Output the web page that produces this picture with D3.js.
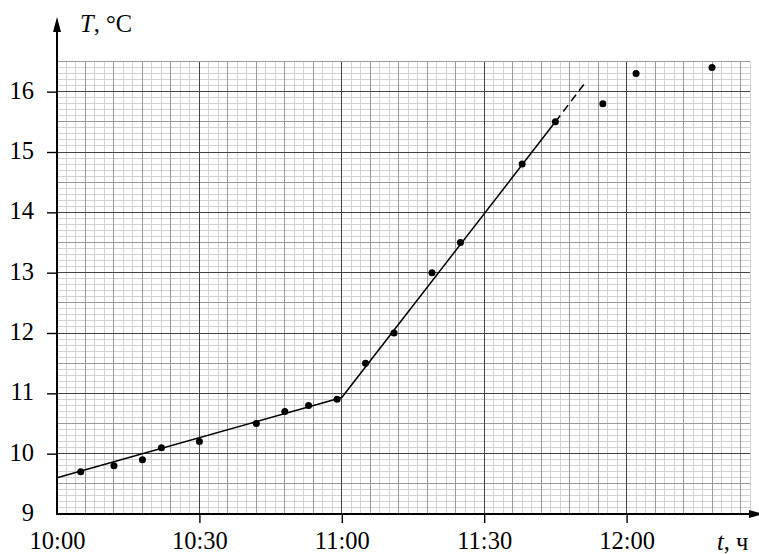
<!DOCTYPE html>
<html>
<head>
<meta charset="utf-8">
<script src="https://cdn.jsdelivr.net/npm/d3@7"></script>
<style>
  body { margin: 0; background: #fff; }
</style>
</head>
<body>
<div id="vis"></div>
<script>
// measured points (time of day, temperature)
const times = ["10:05", "10:12", "10:18", "10:22", "10:30", "10:42", "10:48", "10:53", "10:59",
               "11:05", "11:11", "11:19", "11:25", "11:38", "11:45", "11:55", "12:02", "12:18"];
const temps = [9.7, 9.8, 9.9, 10.1, 10.2, 10.5, 10.7, 10.8, 10.9,
               11.5, 12.0, 13.0, 13.5, 14.8, 15.5, 15.8, 16.3, 16.4];

// fitted lines: solid part and dashed extrapolation
const fitTimes = ["10:00", "11:00", "11:45"];
const fitTemps = [9.6, 10.93, 15.5];
const dashTimes = ["11:45", "11:51"];
const dashTemps = [15.5, 16.12];

const xTickLabels = ["10:00", "10:30", "11:00", "11:30", "12:00"];
const yTickValues = [9, 10, 11, 12, 13, 14, 15, 16];

const FONT = "'Liberation Serif', 'Times New Roman', Times, serif";
const FONT_SIZE = 24.5;
const FRAME_WIDTH = 759;
const FRAME_HEIGHT = 554;
const MARGINS = {left: 57, right: 8, top: 61.5, bottom: 40};

// minutes after 10:00
const toMin = (s) => { const p = s.split(":"); return (+p[0] - 10) * 60 + (+p[1]); };
const fmt = (m) => { const h = 10 + Math.floor(m / 60); const mm = m % 60; return h + ":" + (mm < 10 ? "0" : "") + mm; };

const X_MAX = 146; // right edge of the graph paper, ~12:26
const X_SCALE = d3.scaleLinear().domain([0, X_MAX])
                  .range([MARGINS.left, FRAME_WIDTH - MARGINS.right - 1]);
const Y_SCALE = d3.scaleLinear().domain([9, 16.5])
                  .range([FRAME_HEIGHT - MARGINS.bottom, MARGINS.top]);

const FRAME = d3.select("#vis").append("svg")
                .attr("width", FRAME_WIDTH)
                .attr("height", FRAME_HEIGHT);

const x0 = X_SCALE(0), x1 = X_SCALE(X_MAX);
const y0 = Y_SCALE(9), y1 = Y_SCALE(16.5);

// graph paper
const grid = FRAME.append("g").attr("shape-rendering", "crispEdges");

const vMinor = d3.range(0, X_MAX + 0.1, 2);
const hMinor = d3.range(0, 76).map((i) => 9 + i / 10);

function vColor(m) {
  if (m % 30 === 0) return "#444";
  if (m % 6 === 0) return "#9a9a9a";
  return "#d2d2d2";
}
function hColor(v) {
  const k = Math.round(v * 10);
  if (k % 10 === 0) return "#444";
  if (k % 5 === 0) return "#9a9a9a";
  return "#d2d2d2";
}

// light lines first, dark ones on top
const levels = ["#d2d2d2", "#9a9a9a", "#444"];
levels.forEach((c) => {
  grid.selectAll(null)
      .data(vMinor.filter((m) => vColor(m) === c))
      .enter().append("line")
        .attr("x1", (d) => X_SCALE(d)).attr("x2", (d) => X_SCALE(d))
        .attr("y1", y0).attr("y2", y1)
        .attr("stroke", c).attr("stroke-width", 1);
  grid.selectAll(null)
      .data(hMinor.filter((v) => hColor(v) === c))
      .enter().append("line")
        .attr("x1", x0).attr("x2", x1)
        .attr("y1", (d) => Y_SCALE(d)).attr("y2", (d) => Y_SCALE(d))
        .attr("stroke", c).attr("stroke-width", 1);
});

// fitted lines
const line = d3.line()
               .x((d) => X_SCALE(toMin(d[0])))
               .y((d) => Y_SCALE(d[1]));

FRAME.append("path")
     .datum(d3.zip(fitTimes, fitTemps))
     .attr("d", line)
     .attr("fill", "none")
     .attr("stroke", "#000")
     .attr("stroke-width", 1.5);

FRAME.append("path")
     .datum(d3.zip(dashTimes, dashTemps))
     .attr("d", line)
     .attr("fill", "none")
     .attr("stroke", "#000")
     .attr("stroke-width", 1.5)
     .attr("stroke-dasharray", "8,5");

// points
FRAME.selectAll("points")
     .data(d3.zip(times, temps))
     .enter().append("circle")
       .attr("cx", (d) => X_SCALE(toMin(d[0])))
       .attr("cy", (d) => Y_SCALE(d[1]))
       .attr("r", 3.5)
       .attr("fill", "#000");

// axes with ticks and labels
const yAxis = FRAME.append("g")
                   .attr("transform", "translate(" + x0 + ",0)")
                   .call(d3.axisLeft(Y_SCALE).tickValues(yTickValues)
                           .tickSize(10).tickPadding(13)
                           .tickFormat((d) => d));
const xAxis = FRAME.append("g")
                   .attr("transform", "translate(0," + y0 + ")")
                   .call(d3.axisBottom(X_SCALE).tickValues(xTickLabels.map(toMin))
                           .tickSize(9).tickPadding(9)
                           .tickFormat(fmt));

[yAxis, xAxis].forEach((g) => {
  g.select(".domain").remove();
  g.attr("font-family", FONT).attr("font-size", FONT_SIZE);
  g.selectAll("text")
   .attr("font-family", FONT).attr("font-size", FONT_SIZE).attr("fill", "#000");
  g.selectAll("line").attr("stroke", "#000").attr("stroke-width", 1.4);
});
yAxis.selectAll("text").attr("dy", "0.27em");
// no tick mark at the origin
yAxis.selectAll(".tick").filter((d) => d === 9).select("line").remove();
xAxis.selectAll(".tick").filter((d) => d === 0).select("line").remove();

// axis lines with arrows
FRAME.append("line")
     .attr("x1", x0).attr("y1", y0).attr("x2", x0).attr("y2", 30)
     .attr("stroke", "#000").attr("stroke-width", 2);
FRAME.append("path")
     .attr("d", "M" + x0 + ",17 L" + (x0 - 4) + ",32 L" + (x0 + 4) + ",32 Z")
     .attr("fill", "#000");

FRAME.append("line")
     .attr("x1", x0 - 1).attr("y1", y0).attr("x2", 752).attr("y2", y0)
     .attr("stroke", "#000").attr("stroke-width", 2);
FRAME.append("path")
     .attr("d", "M763," + y0 + " L749," + (y0 - 4) + " L749," + (y0 + 4) + " Z")
     .attr("fill", "#000");

// axis titles
const yTitle = FRAME.append("text")
                    .attr("x", 80).attr("y", 31.5)
                    .attr("font-family", FONT)
                    .attr("font-size", FONT_SIZE);
yTitle.append("tspan").attr("font-style", "italic").text("T");
yTitle.append("tspan").text(", °C");

const xTitle = FRAME.append("text")
                    .attr("x", 717).attr("y", 550)
                    .attr("font-family", FONT)
                    .attr("font-size", FONT_SIZE);
xTitle.append("tspan").attr("font-style", "italic").text("t");
xTitle.append("tspan").text(", ч");
</script>
</body>
</html>
